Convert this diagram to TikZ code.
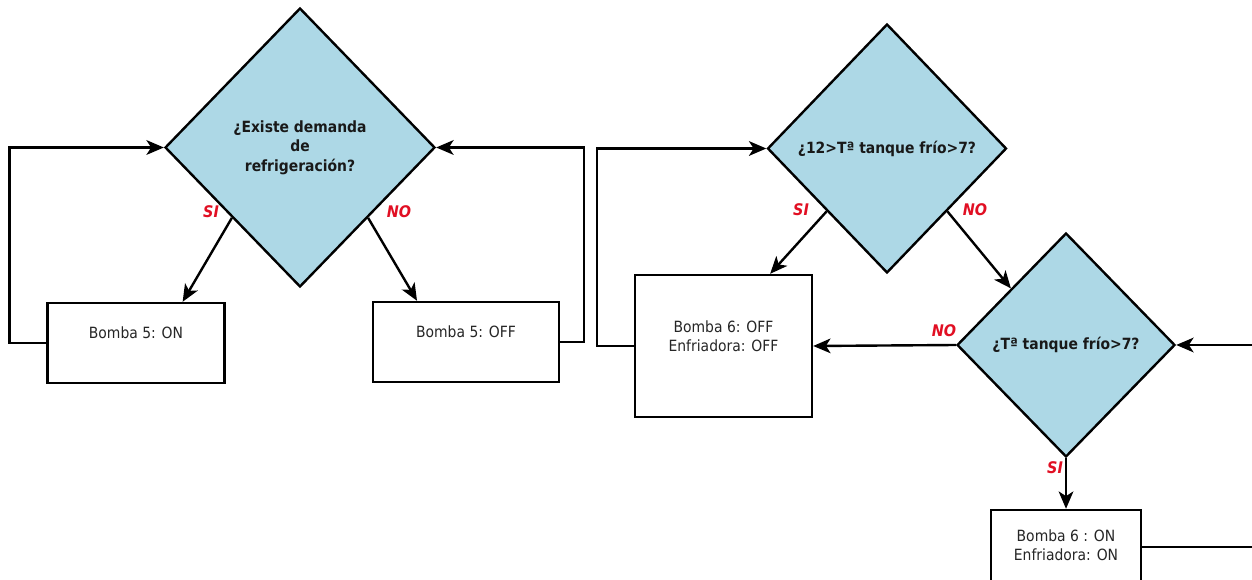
\documentclass[tikz,border=0pt]{standalone}
\usepackage{fontspec}
\setmainfont{DejaVu Sans}[FakeStretch=0.9,ItalicFont={DejaVu Sans Oblique},BoldItalicFont={DejaVu Sans Bold Oblique}]
\usetikzlibrary{shapes.geometric,arrows.meta,calc}

\definecolor{decfill}{RGB}{173,216,230}
\definecolor{answerred}{RGB}{225,15,35}

% box text, lifted slightly above the box centre
\newcommand{\boxtext}[2][6pt]{\raisebox{#1}[\height][\depth]{\begin{tabular}{@{}c@{}}#2\end{tabular}}}

\tikzset{
  decision/.style={diamond, draw, fill=decfill, line width=1.8pt, inner sep=0pt,
    align=center, text=black!90, font=\bfseries\fontsize{11.6}{14.6}\selectfont},
  action/.style={rectangle, draw, fill=white, line width=1.8pt, inner sep=0pt,
    text=black!85, font=\fontsize{11.6}{14.25}\selectfont},
  flow/.style={draw, line width=1.8pt, -{Stealth[length=13pt,width=11pt,inset=3.5pt]}},
  answer/.style={text=answerred, font=\bfseries\itshape\fontsize{12}{13}\selectfont}
}

\begin{document}
\begin{tikzpicture}[x=0.75pt,y=-0.75pt]
\useasboundingbox (0,0) rectangle (1252,580);
\clip (0,0) rectangle (1252,580);

% decisions
\node[decision, minimum width=202.5pt, minimum height=209.25pt] (d1) at (300,147.5)
  {¿Existe demanda\\de\\refrigeración?};
\node[decision, minimum width=179.25pt, minimum height=186.75pt] (d2) at (887,148.5)
  {¿12>Tª tanque frío>7?};
\node[decision, minimum width=163.5pt, minimum height=168pt] (d3) at (1066,345)
  {¿Tª tanque frío>7?};

% actions
\node[action, minimum width=132.75pt, minimum height=60pt] (b5on) at (136,343)
  {\boxtext{Bomba 5: ON}};
\node[action, minimum width=139.5pt, minimum height=60pt] (b5off) at (466,342)
  {\boxtext{Bomba 5: OFF}};
\node[action, minimum width=132.75pt, minimum height=106.5pt] (b6off) at (723.5,346)
  {\boxtext{Bomba 6: OFF\\Enfriadora: OFF}};
\node[action, minimum width=112.5pt, minimum height=55.5pt] (b6on) at (1066,547)
  {\boxtext[0pt]{Bomba 6 : ON\\Enfriadora: ON}};

% connectors
\draw[flow] (d1.south west) -- ($(b5on.north west)!0.76!(b5on.north east)$);
\draw[flow] (d1.south east) -- ($(b5off.north west)!0.24!(b5off.north east)$);
\draw[flow] (b5on.west) -- ++(-37,0) |- (d1.west);
\draw[flow] (b5off.east) -- ++(24,0) |- (d1.east);

\draw[flow] (d2.south west) -- ($(b6off.north west)!0.76!(b6off.north east)$);
\draw[flow] (d2.south east) -- (d3.north west);
\draw[flow] (b6off.west) -- ++(-37,0) |- (d2.west);

\draw[flow] (d3.west) -- (b6off.east);
\draw[flow] (d3.south) -- (b6on.north);
\draw[flow] (b6on.east) -- ++(130,0) |- (d3.east);

% branch labels
\node[answer] (s1) at (211,212) {SI};
\node[answer] (n1) at (399,212) {NO};
\node[answer] (s2) at (801,210) {SI};
\node[answer] (n2) at (975,210) {NO};
\node[answer] (n3) at (944,331) {NO};
\node[answer] (s3) at (1055,468) {SI};
\end{tikzpicture}
\end{document}
